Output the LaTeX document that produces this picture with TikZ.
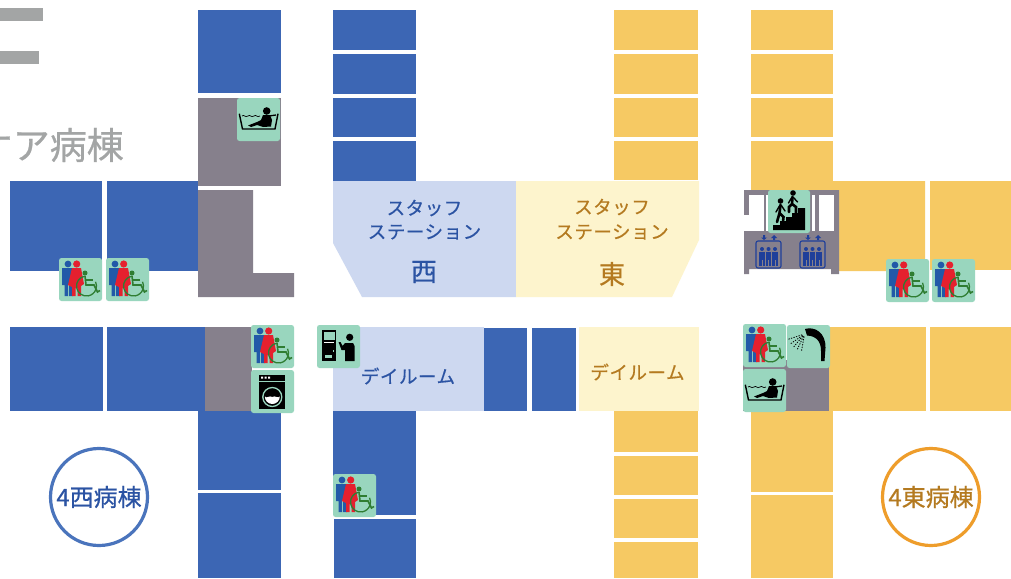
\documentclass[tikz,border=0pt]{standalone}
\usepackage{fontspec}
\setmainfont{Liberation Sans}
\newfontfamily\jpn[FakeBold=0.6]{Noto Sans CJK JP}
\newfontfamily\jpnsp[LetterSpace=3,FakeBold=0.6]{Noto Sans CJK JP}
\definecolor{wblue}{HTML}{3C66B4}
\definecolor{wgray}{HTML}{86808C}
\definecolor{eyel}{HTML}{F6C963}
\definecolor{lblue}{HTML}{CDD8F0}
\definecolor{cream}{HTML}{FDF4CD}
\definecolor{icong}{HTML}{99D6BE}
\definecolor{tblue}{HTML}{2B53A3}
\definecolor{tbrown}{HTML}{B47A20}
\definecolor{tgray}{HTML}{A3A5A5}
\definecolor{mblue}{HTML}{2259A8}
\definecolor{wred}{HTML}{E5202E}
\definecolor{wgreen}{HTML}{2F7D32}
\definecolor{evblue}{HTML}{1F3F9A}
\definecolor{cblue}{HTML}{4A74BC}
\definecolor{corange}{HTML}{EE9D2B}
\tikzset{
  x=1pt,y=-1pt,
  blk/.style={fill=wblue,draw=none},
  gry/.style={fill=wgray,draw=none},
  yel/.style={fill=eyel,draw=none},
  lbl/.style={font=\jpnsp\fontsize{18.5}{19}\selectfont,inner sep=0pt,anchor=center},
  wlab/.style={lbl,text=tblue},
  elab/.style={lbl,text=tbrown},
  iconbox/.style={fill=icong,draw=none,rounded corners=2.5pt},
  toilet/.pic={
    \fill[iconbox] (0,0) rectangle (43,43);
    \fill[mblue] (9,6) circle (3.4);
    \fill[mblue] (3,10) -- (14,10) -- (14,38) -- (10,38) -- (10,26) -- (9,26) -- (9,38) -- (5.5,38) -- (5.5,27) -- (3,27) -- cycle;
    \fill[wred] (17.7,6) circle (3.6);
    \fill[wred] (13,10) -- (22,10) -- (25,26) -- (22,28) -- (22,38) -- (18.5,38) -- (18.5,30) -- (16.5,30) -- (16.5,38) -- (13,38) -- (13,29) -- (9,27) -- cycle;
    \fill[wgreen] (26,15) circle (2.5);
    \draw[wgreen,line width=1.6pt] (26,18) -- (27,27) -- (35,27) -- (38.5,34) -- (41,32.5);
    \draw[wgreen,line width=1.3pt] (27.5,28) ++(-100:10) arc (-100:-385:10);
    \draw[wgreen,line width=1.3pt] (27,22) -- (34,22);
  },
  bath/.pic={
    \fill[iconbox] (0,0) rectangle (43,43);
    \draw[black,line width=1.4pt] (2.3,15.7) -- (5.5,31) -- (38,31) -- (41,15.7);
    \draw[black,line width=.7pt] (5,18) .. controls (7,16) and (8,20) .. (11,18) .. controls (13,16) and (14,20) .. (17,18) .. controls (19,16) and (20,20) .. (23,18);
    \fill[black] (29.7,13) circle (3.8);
    \fill[black] (26,17) -- (33,17) -- (35,22) -- (34,28.5) -- (26,29) -- (20,27) -- (14,29) -- (11,27.5) -- (20,24) -- (24,22) -- cycle;
    \draw[black,line width=1.3pt] (32,18) -- (39,17);
  },
  washer/.pic={
    \fill[iconbox] (0,0) rectangle (43,43);
    \fill[black] (8,5) rectangle (34,39);
    \fill[white] (10,6.5) rectangle (12,8.5) (13.5,6.5) rectangle (15.5,8.5) (17,6.5) rectangle (19,8.5);
    \fill[icong] (8,10.5) rectangle (34,11.5);
    \draw[icong,line width=1.3pt] (21.3,27) circle (9.5);
    \fill[white] (13.8,26.5) .. controls (16,29) and (18,25) .. (21.3,27) .. controls (24,25) and (27,29) .. (28.8,26.5) arc (0:180:7.5);
  },
  vending/.pic={
    \fill[iconbox] (0,0) rectangle (43,43);
    \fill[black] (5,5) rectangle (19,36);
    \fill[icong] (6.5,6.5) rectangle (17.5,15);
    \fill[white] (7,17) rectangle (17,18.2);
    \fill[icong] (7.5,30) rectangle (15,33);
    \fill[icong] (15.5,25) rectangle (17,27);
    \fill[black] (32.7,12.3) circle (3.6);
    \fill[black] (28,18) -- (36,18) -- (37.5,21) -- (37.5,36) -- (28,36) -- (28,25) -- (24.5,25) -- (21.5,17) -- (23.5,17) -- (25.5,21) -- cycle;
  },
  shower/.pic={
    \fill[iconbox] (0,0) rectangle (43,43);
    \fill[black] (18,4) .. controls (28,1) and (39,8) .. (38.5,23) -- (37.5,36) -- (34,36) -- (34,26) .. controls (34,16) and (29,11) .. (20,10.5) -- cycle;
    \foreach \a in {100,115,130,145,162}{
      \draw[black,line width=.8pt,dash pattern=on 1.3pt off 1.3pt] (17.5,9) ++(\a:2.5) -- ++(\a:15);
    }
  },
  stairs/.pic={
    \fill[iconbox] (0,0) rectangle (42,43);
    \fill[black] (5,40) -- (5,35) -- (12,35) -- (12,31) -- (18,31) -- (18,27) -- (24,27) -- (24,23) -- (30,23) -- (30,18) -- (37,18) -- (37,40) -- cycle;
    \fill[black] (12.5,11) circle (2.8);
    \draw[black,line width=2.6pt,line cap=round] (12.5,15) -- (11.5,23) -- (9,32) (11.5,23) -- (15.5,27) -- (15,32);
    \draw[black,line width=1.4pt,line cap=round] (12,15) -- (8,22) (13,15) -- (17,21);
    \fill[black] (25,3) circle (2.8);
    \draw[black,line width=2.6pt,line cap=round] (24.5,7) -- (24,14) -- (21,17) -- (21,22) (24,14) -- (28,17) -- (28,24);
    \draw[black,line width=1.4pt,line cap=round] (24,7) -- (20.5,13) (25,7) -- (29.5,12);
  },
  lift/.pic={
    \draw[evblue,line width=1.1pt,rounded corners=2pt] (0,0) rectangle (25,27);
    \foreach \px in {6,12.5,19}{
      \fill[evblue] (\px,8) circle (2);
      \fill[evblue] (\px-2.8,11) rectangle (\px+2.8,25);
      \fill[wgray] (\px-.3,19) rectangle (\px+.3,25);
    }
    \fill[evblue] (7,-6) -- (7,-3.5) -- (5,-3.5) -- (8,-1) -- (11,-3.5) -- (9,-3.5) -- (9,-6) -- cycle;
    \fill[evblue] (15,-3) -- (18,-6) -- (21,-3) -- (19,-3) -- (19,-1) -- (17,-1) -- (17,-3) -- cycle;
  }
}
\begin{document}
\begin{tikzpicture}
\useasboundingbox (0,0) rectangle (1011,578);
\fill[white] (0,0) rectangle (1011,578);
% grey heading fragments
\fill[tgray] (0,8) rectangle (43,21);
\fill[tgray] (0,51) rectangle (39,64);
\begin{scope}
\clip (0,0) rectangle (1011,578);
\node[anchor=east,inner sep=0pt,text=tgray,font=\jpn\fontsize{37}{37}\selectfont] (title) at (124,145) {ケア病棟};
\end{scope}
% west wing
\fill[blk] (198,10) rectangle (281,93);
\fill[gry] (198,98) rectangle (281,186);
\fill[gry] (198,190) -- (253,190) -- (253,273) -- (294,273) -- (294,297) -- (198,297) -- cycle;
\fill[blk] (10,181) rectangle (102,271);
\fill[blk] (107,181) rectangle (198,271);
\fill[blk] (10,327) rectangle (103,411);
\fill[blk] (107,327) rectangle (205,411);
\fill[gry] (205,327) rectangle (252,411);
\fill[blk] (198,411) rectangle (281,490);
\fill[blk] (198,493) rectangle (281,578);
\foreach \ya/\yb in {10/50,54/94,98/137,141/181}{
  \fill[blk] (333,\ya) rectangle (416,\yb);
}
\fill[lblue] (333,181) -- (516,181) -- (516,297) -- (362,297) -- (333,243) -- cycle;
\fill[cream] (516,181) -- (699,181) -- (699,240) -- (672,297) -- (516,297) -- cycle;
\fill[lblue] (333,327) rectangle (484,411);
\fill[blk] (484,328) rectangle (527,411);
\fill[blk] (532,328) rectangle (576,411);
\fill[cream] (579,327) rectangle (699,411);
\fill[blk] (333,411) rectangle (416,515);
\fill[blk] (334,519) rectangle (416,578);
% east wing
\foreach \ya/\yb in {10/50,54/94,98/137,141/180,411/452,456/495,499/538,542/578}{
  \fill[yel] (614,\ya) rectangle (698,\yb);
}
\foreach \ya/\yb in {10/50,54/94,98/137,141/181}{
  \fill[yel] (751,\ya) rectangle (833,\yb);
}
\fill[yel] (751,181) -- (925,181) -- (925,271) -- (838,271) -- (838,190) -- (751,190) -- cycle;
\fill[yel] (930,181) rectangle (1011,270);
\fill[yel] (829,327) rectangle (926,411);
\fill[yel] (930,327) rectangle (1011,411);
\fill[gry] (743,360) rectangle (829,411);
\fill[yel] (751,411) rectangle (833,492);
\fill[yel] (751,495) rectangle (833,578);
% lift block
\fill[gry] (744,190) -- (839,190) -- (839,274) -- (831,274) -- (831,269) -- (749,269) -- (749,274) -- (744,274) -- cycle;
\fill[white] (749,195) rectangle (764,231);
\fill[white] (744,215) rectangle (749,231);
\fill[white] (766,195) rectangle (769,231);
\fill[white] (812,195) rectangle (815,231);
\fill[white] (819,195) rectangle (834,231);
\pic at (756,241) {lift};
\pic at (800,241) {lift};
% labels
\node[wlab] (s1) at (424.5,208) {スタッフ};
\node[wlab] (s2) at (424.5,232) {ステーション};
\node[lbl,text=tblue,font=\jpn\fontsize{26}{26}\selectfont] (s3) at (424,272) {西};
\node[elab] (e1) at (612,207) {スタッフ};
\node[elab] (e2) at (612,232) {ステーション};
\node[lbl,text=tbrown,font=\jpn\fontsize{26}{26}\selectfont] (e3) at (612,274) {東};
\node[wlab] (d1) at (408,376) {デイルーム};
\node[elab] (d2) at (637.5,372) {デイルーム};
% circles
\node[circle,draw=cblue,line width=3.2pt,fill=white,minimum size=97pt,inner sep=0pt] (cw) at (99,497) {};
\node[circle,draw=corange,line width=3.2pt,fill=white,minimum size=97pt,inner sep=0pt] (ce) at (931,497) {};
\node[inner sep=0pt,text=tblue,font=\jpn\fontsize{24}{24}\selectfont] (cwt) at (cw) {4西病棟};
\node[inner sep=0pt,text=tbrown,font=\jpn\fontsize{24}{24}\selectfont] (cet) at (ce) {4東病棟};
% icons
\pic at (237,98) {bath};
\pic at (59,258) {toilet};
\pic at (106,258) {toilet};
\pic at (251,325) {toilet};
\pic at (251,370) {washer};
\pic at (317,325) {vending};
\pic at (333,474) {toilet};
\pic at (768,190) {stairs};
\pic at (886,259) {toilet};
\pic at (932,259) {toilet};
\pic at (743,324) {toilet};
\pic at (787,325) {shower};
\pic at (743,369) {bath};
\end{tikzpicture}
\end{document}
